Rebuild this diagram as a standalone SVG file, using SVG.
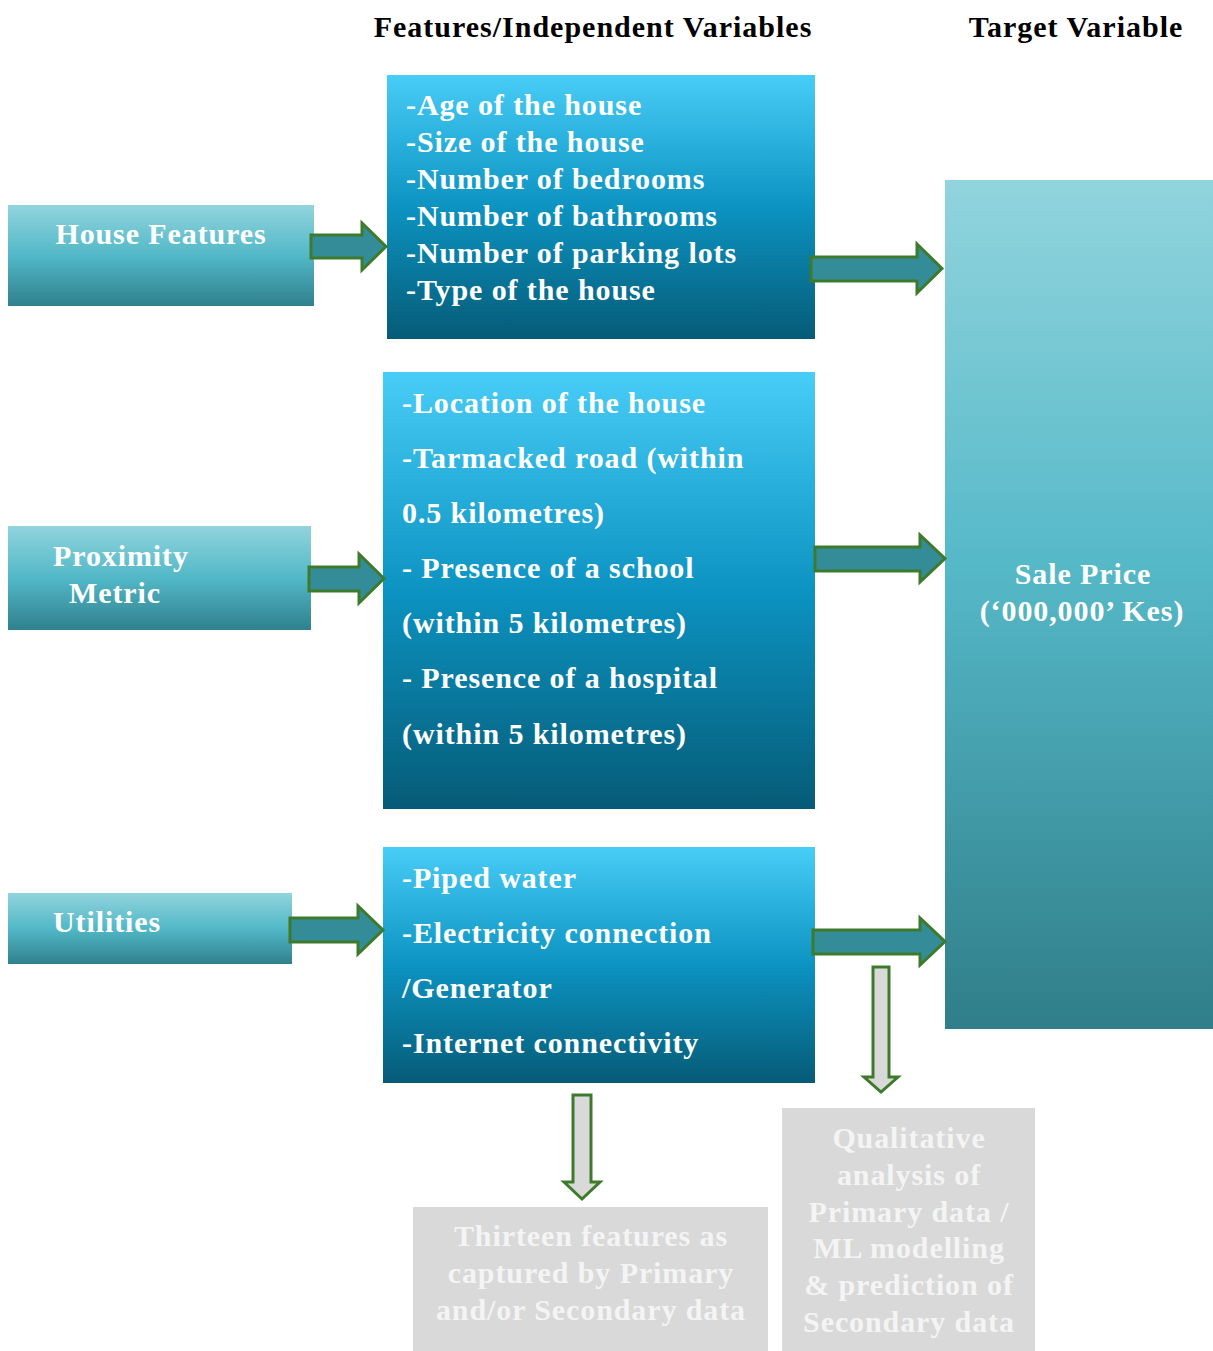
<svg xmlns="http://www.w3.org/2000/svg" width="1213" height="1351" viewBox="0 0 1213 1351">
<defs>
<linearGradient id="gTeal" x1="0" y1="0" x2="0" y2="1">
<stop offset="0" stop-color="#91d4dd"/>
<stop offset="0.5" stop-color="#52b8c7"/>
<stop offset="1" stop-color="#30808d"/>
</linearGradient>
<linearGradient id="gBlue" x1="0" y1="0" x2="0" y2="1">
<stop offset="0" stop-color="#48cdf7"/>
<stop offset="0.5" stop-color="#0c93c1"/>
<stop offset="1" stop-color="#065b77"/>
</linearGradient>
<linearGradient id="gSale" x1="0" y1="0" x2="0" y2="1">
<stop offset="0" stop-color="#91d4dd"/>
<stop offset="0.45" stop-color="#56b9c8"/>
<stop offset="1" stop-color="#2f7e89"/>
</linearGradient>
<style>
text{font-family:"Liberation Serif","Times New Roman",serif;font-weight:bold;font-size:30px;letter-spacing:0.9px}
.w{fill:#ffffff}
.hdr{fill:#000000;letter-spacing:1px}
.g{fill:#f4f4f4}
.arr{fill:#338c98;stroke:#3e7a2c;stroke-width:3;stroke-linejoin:miter}
.darr{fill:#d9d9d9;stroke:#3e7a2c;stroke-width:3;stroke-linejoin:miter}
</style>
</defs>
<rect width="1213" height="1351" fill="#ffffff"/>

<g id="headers">
<text class="hdr" x="593" y="37" text-anchor="middle">Features/Independent Variables</text>
<text class="hdr" x="1076" y="37" text-anchor="middle">Target Variable</text>
</g>

<g id="house-features">
<rect x="8" y="205" width="306" height="101" fill="url(#gTeal)"/>
<text class="w" x="161" y="244" text-anchor="middle">House Features</text>
</g>

<g id="proximity-metric">
<rect x="8" y="526" width="303" height="104" fill="url(#gTeal)"/>
<text class="w" x="53" y="566">Proximity</text>
<text class="w" x="69" y="603">Metric</text>
</g>

<g id="utilities">
<rect x="8" y="893" width="284" height="71" fill="url(#gTeal)"/>
<text class="w" x="53" y="932">Utilities</text>
</g>

<g id="house-list">
<rect x="387" y="75" width="428" height="264" fill="url(#gBlue)"/>
<text class="w" x="406" y="115">-Age of the house</text>
<text class="w" x="406" y="152">-Size of the house</text>
<text class="w" x="406" y="189">-Number of bedrooms</text>
<text class="w" x="406" y="226">-Number of bathrooms</text>
<text class="w" x="406" y="263">-Number of parking lots</text>
<text class="w" x="406" y="300">-Type of the house</text>
</g>

<g id="proximity-list">
<rect x="383" y="372" width="432" height="437" fill="url(#gBlue)"/>
<text class="w" x="402" y="413">-Location of the house</text>
<text class="w" x="402" y="468">-Tarmacked road (within</text>
<text class="w" x="402" y="523">0.5 kilometres)</text>
<text class="w" x="402" y="578">- Presence of a school</text>
<text class="w" x="402" y="633">(within 5 kilometres)</text>
<text class="w" x="402" y="688">- Presence of a hospital</text>
<text class="w" x="402" y="744">(within 5 kilometres)</text>
</g>

<g id="utilities-list">
<rect x="383" y="847" width="432" height="236" fill="url(#gBlue)"/>
<text class="w" x="402" y="888">-Piped water</text>
<text class="w" x="402" y="943">-Electricity connection</text>
<text class="w" x="402" y="998">/Generator</text>
<text class="w" x="402" y="1053">-Internet connectivity</text>
</g>

<g id="sale-price">
<rect x="945" y="180" width="268" height="849" fill="url(#gSale)"/>
<text class="w" x="1083" y="584" text-anchor="middle">Sale Price</text>
<text class="w" x="1082" y="621" text-anchor="middle">(‘000,000’ Kes)</text>
</g>

<g id="thirteen-features">
<rect x="413" y="1207" width="355" height="144" fill="#d9d9d9"/>
<text class="g" x="591" y="1246" text-anchor="middle">Thirteen features as</text>
<text class="g" x="591" y="1283" text-anchor="middle">captured by Primary</text>
<text class="g" x="591" y="1320" text-anchor="middle">and/or Secondary data</text>
</g>

<g id="qualitative-analysis">
<rect x="782" y="1108" width="253" height="243" fill="#d9d9d9"/>
<text class="g" x="909" y="1148" text-anchor="middle">Qualitative</text>
<text class="g" x="909" y="1185" text-anchor="middle">analysis of</text>
<text class="g" x="909" y="1222" text-anchor="middle">Primary data /</text>
<text class="g" x="909" y="1258" text-anchor="middle">ML modelling</text>
<text class="g" x="909" y="1295" text-anchor="middle">&amp; prediction of</text>
<text class="g" x="909" y="1332" text-anchor="middle">Secondary data</text>
</g>

<g id="connectors">
<path class="arr" d="M311,235 H362 V223 L386,246.5 L362,270 V258 H311 Z"/>
<path class="arr" d="M309,567 H359 V554 L384,578.5 L359,603 V591 H309 Z"/>
<path class="arr" d="M290,918 H358 V906 L383,930 L358,954 V942 H290 Z"/>
<path class="arr" d="M811,257 H917 V244 L942,268.5 L917,293 V281 H811 Z"/>
<path class="arr" d="M815,547 H920 V535 L945,558.5 L920,582 V571 H815 Z"/>
<path class="arr" d="M813,930 H920 V918 L945,941.5 L920,965 V954 H813 Z"/>
<path class="darr" d="M573,1095 H591 V1182 H600 L582,1199 L564,1182 H573 Z"/>
<path class="darr" d="M873,967 H889 V1077 H898 L881,1092 L864,1077 H873 Z"/>
</g>
</svg>
